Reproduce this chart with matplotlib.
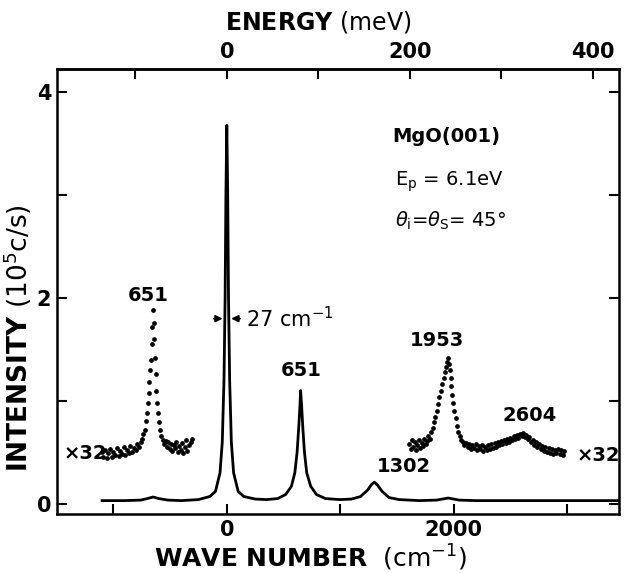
#!/usr/bin/env python3
import matplotlib
matplotlib.use("Agg")
import matplotlib.pyplot as plt
from matplotlib.ticker import FixedLocator
import numpy as np

# main spectrum (wave number in cm^-1, intensity in 10^5 c/s)
wn_main = [-1100, -900, -760, -700, -651, -600, -520, -400, -250, -150, -100, -60, -40,
           -25, -15, -8, 0, 8, 15, 25, 40, 60, 100, 150, 250, 350, 450, 520, 570, 600,
           620, 635, 645, 651, 660, 670, 685, 705, 740, 790, 870, 1000, 1100, 1180,
           1240, 1280, 1302, 1330, 1370, 1430, 1520, 1700, 1850, 1953, 2050, 2200,
           2600, 3000, 3460]
int_main = [0.03, 0.03, 0.035, 0.05, 0.065, 0.05, 0.035, 0.03, 0.04, 0.07, 0.12, 0.3, 0.6,
            1.2, 2.0, 3.0, 3.68, 3.0, 2.0, 1.2, 0.6, 0.3, 0.12, 0.07, 0.045, 0.04, 0.05,
            0.09, 0.17, 0.3, 0.5, 0.75, 0.95, 1.1, 0.95, 0.75, 0.5, 0.3, 0.17, 0.09, 0.05,
            0.04, 0.045, 0.07, 0.13, 0.19, 0.21, 0.18, 0.12, 0.06, 0.04, 0.03, 0.035,
            0.055, 0.035, 0.03, 0.03, 0.03, 0.03]

# x32 magnified segments
wn_left32 = [-1100, -1090, -1075, -1060, -1045, -1030, -1015, -1000, -985, -970, -955,
             -940, -925, -910, -895, -880, -865, -850, -835, -820, -805, -790, -775,
             -760, -745, -735, -725, -715, -705, -698, -690, -683, -676, -670, -664,
             -658, -652, -646, -640, -634, -628, -622, -615, -607, -598, -588, -577,
             -565, -552, -540, -528, -516, -504, -492, -480, -468, -456, -444, -432,
             -420, -408, -396, -384, -372, -360, -348, -336, -320, -305]
int_left32 = [0.50, 0.45, 0.52, 0.44, 0.49, 0.53, 0.45, 0.50, 0.47, 0.54, 0.46, 0.51,
              0.48, 0.55, 0.47, 0.52, 0.49, 0.56, 0.50, 0.54, 0.52, 0.58, 0.55, 0.60,
              0.63, 0.68, 0.72, 0.80, 0.88, 0.98, 1.08, 1.18, 1.30, 1.40, 1.55, 1.72,
              1.88, 1.76, 1.60, 1.42, 1.26, 1.10, 0.98, 0.88, 0.79, 0.72, 0.66, 0.62,
              0.58, 0.61, 0.55, 0.60, 0.53, 0.58, 0.51, 0.57, 0.54, 0.60, 0.50, 0.56,
              0.52, 0.59, 0.49, 0.55, 0.62, 0.51, 0.57, 0.60, 0.63]

wn_right32 = [1610, 1622, 1634, 1646, 1658, 1670, 1682, 1694, 1706, 1718, 1730, 1742,
              1754, 1766, 1778, 1790, 1802, 1815, 1828, 1840, 1852, 1864, 1876, 1888,
              1900, 1912, 1922, 1932, 1942, 1950, 1958, 1966, 1974, 1982, 1990, 1998,
              2008, 2018, 2030, 2042, 2055, 2068, 2082, 2096, 2110, 2124, 2138, 2152,
              2166, 2180, 2194, 2208, 2222, 2236, 2250, 2264, 2278, 2292, 2306, 2320,
              2334, 2348, 2362, 2376, 2390, 2404, 2418, 2432, 2446, 2460, 2474, 2488,
              2502, 2516, 2530, 2544, 2558, 2572, 2586, 2600, 2614, 2628, 2642, 2656,
              2670, 2684, 2698, 2712, 2726, 2740, 2754, 2768, 2782, 2796, 2810, 2824,
              2838, 2852, 2866, 2880, 2894, 2908, 2922, 2936, 2950, 2964, 2978]
int_right32 = [0.58, 0.53, 0.62, 0.55, 0.60, 0.52, 0.57, 0.62, 0.54, 0.59, 0.56, 0.63,
               0.58, 0.61, 0.66, 0.63, 0.70, 0.74, 0.79, 0.84, 0.90, 0.97, 1.04, 1.10,
               1.16, 1.22, 1.28, 1.33, 1.38, 1.42, 1.36, 1.30, 1.22, 1.14, 1.06, 0.98,
               0.90, 0.83, 0.76, 0.70, 0.66, 0.62, 0.60, 0.57, 0.59, 0.55, 0.58, 0.53,
               0.57, 0.54, 0.58, 0.52, 0.56, 0.53, 0.57, 0.51, 0.55, 0.52, 0.57, 0.53,
               0.58, 0.54, 0.59, 0.55, 0.60, 0.57, 0.61, 0.58, 0.62, 0.59, 0.63, 0.60,
               0.64, 0.62, 0.66, 0.63, 0.67, 0.64, 0.68, 0.66, 0.69, 0.65, 0.67, 0.63,
               0.65, 0.60, 0.62, 0.57, 0.60, 0.55, 0.58, 0.53, 0.56, 0.51, 0.55, 0.50,
               0.54, 0.49, 0.53, 0.48, 0.52, 0.49, 0.53, 0.48, 0.52, 0.47, 0.51]

# peak labels: (text, wave number, intensity at label centre)
peak_labels = [("651", -690, 2.02), ("651", 655, 1.30), ("1302", 1566, 0.36),
               ("1953", 1850, 1.59), ("2604", 2670, 0.86)]

CM_PER_MEV = 8.0655


def main():
    fig = plt.figure(figsize=(6.24, 5.73), dpi=100)
    ax = fig.add_axes([0.091, 0.103, 0.901, 0.777])

    ax.plot(wn_main, int_main, color="black", lw=2.0)
    ax.plot(wn_left32, int_left32, ls="none", marker="o", ms=2.4, color="black")
    ax.plot(wn_right32, int_right32, ls="none", marker="o", ms=2.4, color="black")

    ax.set_xlim(-1500, 3460)
    ax.set_ylim(-0.1, 4.23)

    for s in ax.spines.values():
        s.set_linewidth(1.8)

    ax.xaxis.set_major_locator(FixedLocator([0, 2000]))
    ax.xaxis.set_minor_locator(FixedLocator([-1000, 1000, 3000]))
    ax.yaxis.set_major_locator(FixedLocator([0, 2, 4]))
    ax.yaxis.set_minor_locator(FixedLocator([1, 3]))
    ax.tick_params(which="both", direction="in", length=7, width=1.5,
                   left=True, right=True, bottom=True, top=False,
                   labelsize=15, pad=4)
    for lab in ax.get_xticklabels() + ax.get_yticklabels():
        lab.set_fontweight("bold")

    sec = ax.secondary_xaxis("top", functions=(lambda k: k / CM_PER_MEV,
                                               lambda e: e * CM_PER_MEV))
    sec.xaxis.set_major_locator(FixedLocator([0, 200, 400]))
    sec.xaxis.set_minor_locator(FixedLocator([-100, 100, 300]))
    sec.tick_params(which="both", direction="in", length=7, width=1.5,
                    labelsize=15, pad=5)
    sec.spines["top"].set_linewidth(1.8)
    for lab in sec.get_xticklabels():
        lab.set_fontweight("bold")

    for txt, x, y in peak_labels:
        ax.text(x, y, txt, ha="center", va="center", fontsize=14, fontweight="bold")
    ax.text(-1250, 0.49, "×32", ha="center", va="center", fontsize=14, fontweight="bold")
    ax.text(3280, 0.47, "×32", ha="center", va="center", fontsize=14, fontweight="bold")

    # FWHM arrows on the elastic peak
    ax.annotate("", xy=(-12, 1.8), xytext=(-140, 1.8),
                arrowprops=dict(arrowstyle="-|>", color="black", lw=1.3))
    ax.annotate("", xy=(14, 1.8), xytext=(142, 1.8),
                arrowprops=dict(arrowstyle="-|>", color="black", lw=1.3))
    ax.text(170, 1.8, r"27 cm$^{-1}$", ha="left", va="center", fontsize=15)

    ax.text(1940, 3.57, "MgO(001)", ha="center", va="center", fontsize=14, fontweight="bold")
    ax.text(1480, 3.13, r"E$_\mathrm{p}$ = 6.1eV", ha="left", va="center", fontsize=14)
    ax.text(1480, 2.75, r"$\theta_\mathrm{i}$=$\theta_\mathrm{S}$= 45°",
            ha="left", va="center", fontsize=14)

    fig.text(0.497, 0.027, r"$\mathbf{WAVE\ NUMBER}$  (cm$^{-1}$)",
             ha="center", va="center", fontsize=18)
    fig.text(0.51, 0.962, r"$\mathbf{ENERGY}$ (meV)",
             ha="center", va="center", fontsize=17)
    fig.text(0.029, 0.41, r"$\mathbf{INTENSITY}$ (10$^5$c/s)",
             ha="center", va="center", rotation=90, fontsize=19)

    fig.savefig("out.png", dpi=100)


if __name__ == "__main__":
    main()
